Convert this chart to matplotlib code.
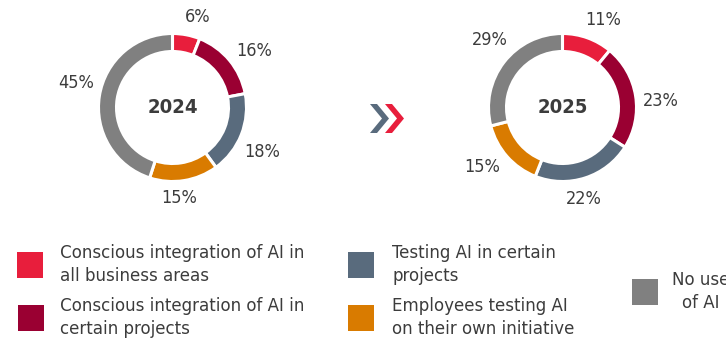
import numpy as np
import matplotlib
matplotlib.use('Agg')
import matplotlib.pyplot as plt
from matplotlib.patches import Rectangle, Polygon

plt.rcParams['font.family'] = ['DejaVu Sans']
plt.rcParams['font.stretch'] = 'condensed'

# data
categories = [
    "Conscious integration of AI in\nall business areas",
    "Conscious integration of AI in\ncertain projects",
    "Testing AI in certain\nprojects",
    "Employees testing AI\non their own initiative",
    "No use\nof AI",
]
colors = ['#E81E3C', '#9A0032', '#596B7D', '#D97B00', '#808080']
years = ['2024', '2025']
share_2024 = [6, 16, 18, 15, 45]
share_2025 = [11, 23, 22, 15, 29]

W, H = 726, 340
fig = plt.figure(figsize=(W / 100, H / 100), dpi=100)
ax = fig.add_axes([0, 0, 1, 1])

text_col = '#3c3c3c'
R = 74


def donut(values, cx, cy, year):
    cy = H - cy
    ax.pie(values, colors=colors, startangle=90, counterclock=False,
           center=(cx, cy), radius=R,
           wedgeprops=dict(width=18, edgecolor='white', linewidth=2.2))
    ax.text(cx, cy, year, ha='center', va='center', fontsize=14.5,
            fontweight='bold', color=text_col)
    # labels just outside the ring, box edge kept clear of the ring
    total = float(sum(values))
    cum = np.cumsum([0] + list(values))
    for i, v in enumerate(values):
        mid = (cum[i] + v / 2) / total * 360 + 5
        t = np.radians(mid)
        s, c = np.sin(t), np.cos(t)
        r = R + 8 + abs(s) * 16 + abs(c) * 8
        ax.text(cx + r * s, cy + r * c, f'{v}%', ha='center', va='center',
                fontsize=13, color=text_col)


donut(share_2024, 172.5, 107.5, years[0])
donut(share_2025, 562.5, 107.5, years[1])

ax.set_xlim(0, W)
ax.set_ylim(0, H)
ax.set_aspect('auto')
ax.axis('off')

# chevrons between the two years
for x0, c in [(370, '#596B7D'), (385, '#E81E3C')]:
    pts = [(x0, 104), (x0 + 7, 104), (x0 + 19, 118.5), (x0 + 7, 133),
           (x0, 133), (x0 + 12, 118.5)]
    ax.add_patch(Polygon([(x, H - y) for x, y in pts], closed=True,
                         facecolor=c, edgecolor='none'))

# legend
legend_pos = [(17, 252, 60), (18, 305, 60), (348, 252, 392), (348, 305, 392), (632, 279, 672)]
for (sx, sy, tx), c, lab in zip(legend_pos, colors, categories):
    ax.add_patch(Rectangle((sx, H - sy - 26), 26, 26, facecolor=c, edgecolor='none'))
    ax.text(tx, H - sy - 12.5, lab, ha='left', va='center', fontsize=13.3,
            color=text_col, linespacing=1.34,
            multialignment='center' if lab.startswith('No') else 'left')

fig.savefig('out.png', dpi=100)
